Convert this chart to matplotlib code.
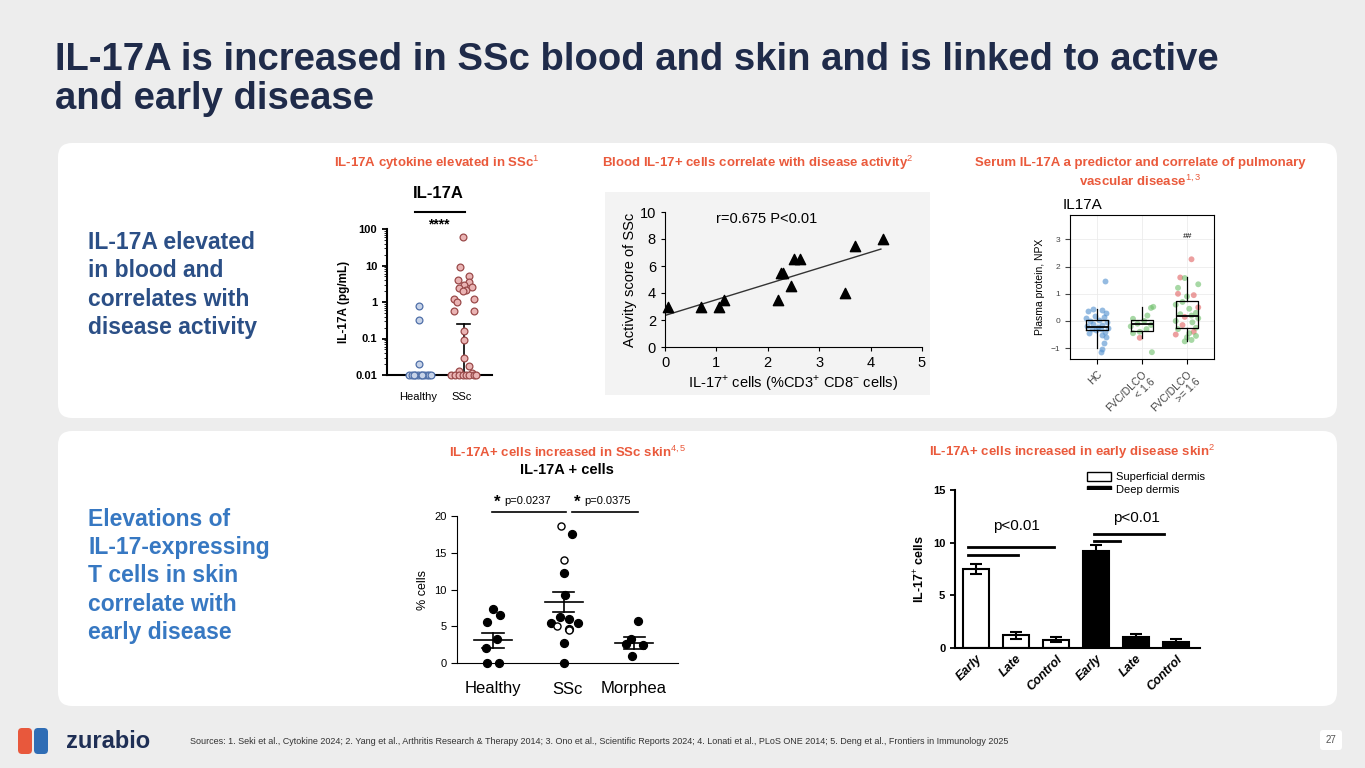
import numpy as np
import matplotlib.pyplot as plt
from matplotlib.patches import FancyBboxPatch, Rectangle

plt.rcParams['font.family'] = ['Liberation Sans', 'DejaVu Sans']
plt.rcParams['mathtext.fontset'] = 'custom'
plt.rcParams['mathtext.rm'] = 'Liberation Sans'
plt.rcParams['mathtext.bf'] = 'Liberation Sans:bold'

W, H = 1365, 768
ORANGE = '#ea5a3c'
NAVY = '#1f2b4a'

# panel 1: IL-17A serum (log scale)
healthy_il17 = [0.01] * 11 + [0.02, 0.33, 0.8]
healthy_off = [-0.28, -0.2, -0.12, -0.05, 0.02, 0.1, 0.18, 0.25, -0.15, 0.06, 0.3, -0.02, -0.02, -0.02]
ssc_il17 = [60, 9, 5.2, 3.5, 4, 3, 2.4, 2.2, 2.5, 2.0, 1.2, 1.2, 1.0, 0.55, 0.55,
            0.16, 0.09, 0.03, 0.018, 0.013, 0.011] + [0.01] * 8
ssc_off = [-0.02, -0.08, 0.14, 0.14, -0.14, 0.0, -0.1, 0.06, 0.2, -0.02, 0.26, -0.22, -0.16, -0.22, 0.26,
           0.0, 0.0, 0.0, 0.14, -0.12, 0.2, -0.3, -0.2, -0.1, -0.02, 0.06, 0.14, 0.24, 0.3]

# panel 2: activity score vs IL-17+ cells
il17_cells = [0.05, 0.7, 1.05, 1.15, 2.2, 2.25, 2.3, 2.45, 2.5, 2.62, 3.5, 3.7, 4.25]
activity = [3.0, 3.0, 3.0, 3.5, 3.5, 5.5, 5.5, 4.5, 6.5, 6.5, 4.0, 7.5, 8.0]

# panel 3: plasma NPX
npx_groups = ['HC', 'FVC/DLCO\n< 1.6', 'FVC/DLCO\n>= 1.6']
hc_y = [1.48, 0.45, 0.4, 0.35, 0.3, 0.2, 0.15, 0.1, 0.05, 0.0, -0.05, -0.1, -0.15, -0.2, -0.22,
        -0.25, -0.3, -0.3, -0.35, -0.4, -0.45, -0.5, -0.6, -0.8, -1.05, -1.15]
hc_x = [0.18, -0.1, 0.1, -0.2, 0.2, -0.05, 0.15, -0.25, 0.05, -0.15, 0.22, -0.08, 0.12, -0.22, 0.02,
        0.25, -0.12, 0.08, -0.02, 0.18, -0.18, 0.1, 0.2, 0.15, 0.1, 0.08]
mid_y = [0.52, 0.48, 0.2, 0.08, 0.0, -0.1, -0.15, -0.2, -0.3, -0.4, -0.45, -0.62, -1.15]
mid_x = [0.25, 0.2, 0.12, -0.2, 0.05, -0.1, 0.2, -0.25, 0.1, -0.05, -0.2, -0.05, 0.22]
mid_c = ['g'] * 11 + ['r', 'g']
hi_y = [2.27, 1.6, 1.58, 1.35, 1.22, 1.0, 0.95, 0.9, 0.7, 0.6, 0.5, 0.45, 0.3, 0.25, 0.2, 0.15, 0.1, 0.0,
        -0.05, -0.15, -0.25, -0.3, -0.4, -0.45, -0.5, -0.55, -0.6, -0.7, -0.75]
hi_x = [0.1, -0.15, -0.05, 0.25, -0.2, -0.2, 0.15, 0.0, -0.1, -0.25, 0.25, 0.05, 0.2, -0.15, 0.1,
        -0.05, 0.25, -0.25, 0.12, -0.1, 0.2, -0.2, 0.15, 0.05, -0.25, 0.2, 0.0, 0.1, -0.05]
hi_c = ['r', 'r', 'g', 'g', 'g', 'r', 'r', 'g', 'g', 'g', 'r', 'g', 'g', 'g', 'g', 'r', 'g', 'g',
        'g', 'r', 'g', 'g', 'r', 'g', 'r', 'g', 'g', 'g', 'g']
box_stats = [dict(med=-0.22, q1=-0.32, q3=0.05, whislo=-1.0, whishi=0.45),
             dict(med=-0.1, q1=-0.38, q3=0.05, whislo=-0.62, whishi=0.52),
             dict(med=0.2, q1=-0.25, q3=0.72, whislo=-0.75, whishi=1.6)]

# panel 4: % IL-17A+ cells in skin
skin_groups = ['Healthy', 'SSc', 'Morphea']
h_y = [7.3, 6.5, 5.6, 3.2, 2.0, 0.0, 0.0]
h_x = [0.0, 0.1, -0.08, 0.05, -0.1, -0.08, 0.08]
ssc_fill_y = [17.5, 12.3, 9.3, 6.3, 6.0, 5.4, 5.5, 4.6, 2.7, 0.0]
ssc_fill_x = [0.12, 0.0, 0.02, -0.05, 0.08, -0.18, 0.2, 0.07, 0.0, 0.0]
ssc_open_y = [18.7, 14.0, 5.0, 4.5]
ssc_open_x = [-0.03, 0.0, -0.09, 0.08]
m_y = [5.7, 3.3, 2.5, 2.6, 0.9]
m_x = [0.05, -0.05, 0.12, -0.12, -0.03]
skin_mean = [3.1, 8.3, 2.7]
skin_sem = [1.0, 1.4, 0.85]

# panel 5: IL-17+ cells by disease stage
stage_labels = ['Early', 'Late', 'Control', 'Early', 'Late', 'Control']
stage_vals = [7.5, 1.2, 0.8, 9.2, 1.0, 0.6]
stage_err = [0.5, 0.3, 0.2, 0.6, 0.3, 0.25]


def ax_px(x0, y0, x1, y1):
    return fig.add_axes([x0 / W, 1 - y1 / H, (x1 - x0) / W, (y1 - y0) / H])


def ftext(x, y, s, **kw):
    fig.text(x / W, 1 - y / H, s, **kw)


fig = plt.figure(figsize=(W / 100, H / 100), dpi=100)
fig.patch.set_facecolor('#ededed')
bg = ax_px(0, 0, W, H)
bg.set_xlim(0, W)
bg.set_ylim(H, 0)
bg.axis('off')
for y0, y1 in [(143, 418), (431, 706)]:
    bg.add_patch(FancyBboxPatch((58, y0), 1279, y1 - y0, boxstyle='round,pad=0,rounding_size=14',
                                fc='white', ec='none'))
bg.add_patch(Rectangle((605, 192), 325, 203, fc='#f3f3f3', ec='none'))

ftext(55, 42, 'IL-17A is increased in SSc blood and skin and is linked to active\nand early disease',
      fontsize=27.5, weight='bold', color=NAVY, va='top', linespacing=1.12)
ftext(88, 285, 'IL-17A elevated\nin blood and\ncorrelates with\ndisease activity', fontsize=16.5,
      weight='bold', color='#2b4f86', va='center', linespacing=1.3)
ftext(88, 576, 'Elevations of\nIL-17-expressing\nT cells in skin\ncorrelate with\nearly disease', fontsize=16.5,
      weight='bold', color='#3778c2', va='center', linespacing=1.3)

for x, y, s in [(437, 163, 'IL-17A cytokine elevated in SSc$^{1}$'),
                (758, 163, 'Blood IL-17+ cells correlate with disease activity$^{2}$'),
                (1140, 163, 'Serum IL-17A a predictor and correlate of pulmonary'),
                (1140, 181, 'vascular disease$^{1,3}$'),
                (568, 452, 'IL-17A+ cells increased in SSc skin$^{4,5}$'),
                (1072, 452, 'IL-17A+ cells increased in early disease skin$^{2}$')]:
    ftext(x, y, s, fontsize=9.5, weight='bold', color=ORANGE, ha='center', va='center')

# ---- panel 1
ax1 = ax_px(387, 229, 492, 375)
ax1.set_yscale('log')
ax1.set_ylim(0.01, 100)
ax1.set_xlim(0, 2.4)
ax1.scatter(0.75 + np.array(healthy_off) * 0.85, healthy_il17, s=24, fc='#c7d3e8', ec='#4f6fa8', lw=0.9,
            clip_on=False, zorder=3)
ax1.scatter(1.75 + np.array(ssc_off) * 0.95, ssc_il17, s=24, fc='#eab4b4', ec='#9a4a4a', lw=0.9,
            clip_on=False, zorder=3)
ax1.plot([0.45, 1.05], [0.01, 0.01], color='black', lw=1.5, clip_on=False)
ax1.plot([1.45, 2.05], [0.011, 0.011], color='black', lw=1.5, clip_on=False)
ax1.plot([1.75, 1.75], [0.01, 0.25], color='black', lw=1.2)
ax1.plot([1.6, 1.9], [0.25, 0.25], color='black', lw=1.2)
for s in ['top', 'right']:
    ax1.spines[s].set_visible(False)
ax1.spines['left'].set_linewidth(1.5)
ax1.spines['bottom'].set_linewidth(1.5)
ax1.set_xticks([])
ax1.set_yticks([0.01, 0.1, 1, 10, 100], ['0.01', '0.1', '1', '10', '100'])
ax1.tick_params(axis='y', labelsize=8, width=1.3)
for t in ax1.get_yticklabels():
    t.set_fontweight('bold')
ax1.set_ylabel('IL-17A (pg/mL)', fontsize=8.5, weight='bold')
ftext(418, 397, 'Healthy', fontsize=8, ha='center', va='center')
ftext(462, 397, 'SSc', fontsize=8, ha='center', va='center')
ftext(438, 193, 'IL-17A', fontsize=12, weight='bold', ha='center', va='center')
bg.plot([415, 465], [212, 212], color='black', lw=1.5)
ftext(439, 224, '****', fontsize=10, weight='bold', ha='center', va='center')

# ---- panel 2
ax2 = ax_px(665, 212, 922, 347)
ax2.set_xlim(0, 5)
ax2.set_ylim(0, 10)
ax2.scatter(il17_cells, activity, marker='^', s=55, color='black', clip_on=False, zorder=3)
k, b = np.polyfit(il17_cells, activity, 1)
xs = np.array([0.0, 4.2])
ax2.plot(xs, k * xs + b, color='#333333', lw=1)
ax2.set_facecolor('none')
for s in ['top', 'right']:
    ax2.spines[s].set_visible(False)
ax2.set_xticks(range(6))
ax2.set_yticks(range(0, 11, 2))
ax2.tick_params(labelsize=10.5, length=3)
ax2.set_xlabel('IL-17$^{+}$ cells (%CD3$^{+}$ CD8$^{-}$ cells)', fontsize=10.5, labelpad=2)
ax2.set_ylabel('Activity score of SSc', fontsize=10.5, labelpad=2)
ax2.text(1.0, 9.5, 'r=0.675 P<0.01', fontsize=10.5, va='center')

# ---- panel 3
ax3 = ax_px(1070, 215, 1214, 359)
ax3.set_xlim(0.4, 3.6)
ax3.set_ylim(-1.4, 3.9)
ax3.grid(color='#ececec', lw=0.6)
ax3.set_axisbelow(True)
cmap = {'g': '#6dbf6a', 'r': '#e06060'}
ax3.scatter(1 + np.array(hc_x), hc_y, s=18, color='#4f8fce', alpha=0.6, lw=0)
ax3.scatter(2 + np.array(mid_x), mid_y, s=18, c=[cmap[c] for c in mid_c], alpha=0.6, lw=0)
ax3.scatter(3 + np.array(hi_x), hi_y, s=18, c=[cmap[c] for c in hi_c], alpha=0.6, lw=0)
ax3.bxp(box_stats, positions=[1, 2, 3], widths=0.5, showfliers=False, showcaps=False,
        boxprops=dict(lw=0.9), whiskerprops=dict(lw=0.9), medianprops=dict(color='black', lw=1.3))
ax3.text(3, 3.05, '##', fontsize=6, ha='center', style='italic')
ax3.set_xticks([1, 2, 3], npx_groups, rotation=45, ha='right', rotation_mode='anchor', fontsize=7.5,
               color='#444444')
ax3.set_yticks([-1, 0, 1, 2, 3], ['\u22121', '0', '1', '2', '3'])
ax3.tick_params(axis='y', labelsize=6, colors='#444444')
ax3.set_ylabel('Plasma protein, NPX', fontsize=7.5)
ax3.set_title('IL17A', fontsize=11, loc='left', x=-0.05, pad=4)

# ---- panel 4
ax4 = ax_px(457, 516, 678, 663)
ax4.set_xlim(0.49, 3.62)
ax4.set_ylim(0, 20)
ax4.scatter(1 + np.array(h_x), h_y, s=32, color='black', clip_on=False, zorder=3)
ax4.scatter(2 + np.array(ssc_fill_x), ssc_fill_y, s=32, color='black', clip_on=False, zorder=3)
ax4.scatter(2 + np.array(ssc_open_x), ssc_open_y, s=26, fc='white', ec='black', lw=1, clip_on=False,
            zorder=3)
ax4.scatter(3 + np.array(m_x), m_y, s=32, color='black', clip_on=False, zorder=3)
for i, (m, e) in enumerate(zip(skin_mean, skin_sem)):
    p = i + 1
    ax4.plot([p - 0.27, p + 0.27], [m, m], color='black', lw=1.2)
    ax4.plot([p - 0.15, p + 0.15], [m + e, m + e], color='black', lw=1.2)
    ax4.plot([p - 0.15, p + 0.15], [m - e, m - e], color='black', lw=1.2)
    ax4.plot([p, p], [m - e, m + e], color='black', lw=1.2)
for s in ['top', 'right']:
    ax4.spines[s].set_visible(False)
ax4.set_xticks([])
ax4.set_yticks([0, 5, 10, 15, 20])
ax4.tick_params(axis='y', labelsize=8, length=4)
ax4.set_ylabel('% cells', fontsize=9)
for p, lab in zip([493, 567, 634], skin_groups):
    ftext(p, 689, lab, fontsize=12, ha='center', va='center')
ftext(567, 470, 'IL-17A + cells', fontsize=10.5, weight='bold', ha='center', va='center')
bg.plot([492, 566], [512, 512], color='black', lw=1.2)
bg.plot([572, 638], [512, 512], color='black', lw=1.2)
ftext(497, 502, '*', fontsize=12, weight='bold', ha='center', va='center')
ftext(504, 501, 'p=0.0237', fontsize=8, va='center')
ftext(577, 502, '*', fontsize=12, weight='bold', ha='center', va='center')
ftext(584, 501, 'p=0.0375', fontsize=8, va='center')

# ---- panel 5
ax5 = ax_px(955, 490, 1200, 648)
ax5.set_xlim(-0.525, 5.6)
ax5.set_ylim(0, 15)
cols = ['white'] * 3 + ['black'] * 3
ax5.bar(range(6), stage_vals, width=0.65, color=cols, ec='black', lw=1.5,
        yerr=stage_err, error_kw=dict(lw=1.5, capsize=4, capthick=1.5))
ax5.plot([-0.2, 1.05], [8.8, 8.8], color='black', lw=2)
ax5.plot([-0.2, 1.95], [9.6, 9.6], color='black', lw=2)
ax5.plot([2.95, 3.6], [10.2, 10.2], color='black', lw=2)
ax5.plot([2.95, 4.7], [10.8, 10.8], color='black', lw=2)
ax5.text(1.0, 11.2, 'p<0.01', fontsize=11, ha='center')
ax5.text(4.0, 12.0, 'p<0.01', fontsize=11, ha='center')
for s in ['top', 'right']:
    ax5.spines[s].set_visible(False)
ax5.spines['left'].set_linewidth(1.5)
ax5.spines['bottom'].set_linewidth(1.5)
ax5.set_yticks([0, 5, 10, 15])
ax5.tick_params(axis='y', labelsize=8, width=1.3)
for t in ax5.get_yticklabels():
    t.set_fontweight('bold')
ax5.set_xticks(range(6), stage_labels, rotation=45, ha='right', rotation_mode='anchor', fontsize=9,
               weight='bold', style='italic')
ax5.tick_params(axis='x', length=0)
ax5.set_ylabel('IL-17$^{+}$ cells', fontsize=9, weight='bold')
bg.add_patch(Rectangle((1087, 472), 24, 9, fc='white', ec='black', lw=1))
bg.add_patch(Rectangle((1087, 486), 24, 9, fc='black', ec='black', lw=1))
ftext(1116, 477, 'Superficial dermis', fontsize=8, va='center')
ftext(1116, 490, 'Deep dermis', fontsize=8, va='center')

# ---- footer
bg.add_patch(FancyBboxPatch((18, 728), 14, 26, boxstyle='round,pad=0,rounding_size=4', fc='#e8583c',
                            ec='none'))
bg.add_patch(FancyBboxPatch((34, 728), 14, 26, boxstyle='round,pad=0,rounding_size=4', fc='#2f6db5',
                            ec='none'))
ftext(66, 741, 'zurabio', fontsize=17, weight='bold', color='#1f2f55', va='center')
ftext(190, 742, 'Sources: 1. Seki et al., Cytokine 2024; 2. Yang et al., Arthritis Research & Therapy 2014; '
      '3. Ono et al., Scientific Reports 2024; 4. Lonati et al., PLoS ONE 2014; 5. Deng et al., '
      'Frontiers in Immunology 2025', fontsize=6.5, color='#333333', va='center')
bg.add_patch(FancyBboxPatch((1320, 730), 22, 20, boxstyle='round,pad=0,rounding_size=3', fc='white',
                            ec='none'))
ftext(1331, 740, '27', fontsize=7, color='#555555', ha='center', va='center')

fig.savefig('out.png', dpi=100, facecolor=fig.get_facecolor())
